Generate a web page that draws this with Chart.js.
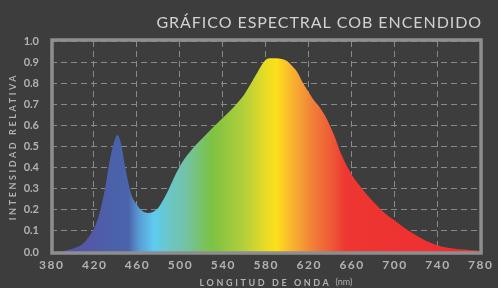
<!DOCTYPE html>
<html>
<head>
<meta charset="utf-8">
<script src="https://cdn.jsdelivr.net/npm/chart.js@4.4.1/dist/chart.umd.min.js"></script>
<style>
  html, body { margin: 0; padding: 0; background: #3d3d3d; }
  #wrap { width: 498px; height: 288px; position: relative; }
</style>
</head>
<body>
<div id="wrap"><canvas id="spectrum"></canvas></div>
<script>
// wavelength (nm) and relative intensity
const wavelengths = [380, 390, 400, 410, 415, 420, 425, 430, 435, 440, 442, 445, 450, 455, 460, 465, 470, 475, 480, 485, 490, 495, 500, 505, 510, 520, 530, 540, 550, 560, 570, 575, 580, 585, 590, 595, 600, 605, 610, 615, 620, 625, 630, 635, 640, 645, 650, 660, 670, 680, 690, 700, 710, 720, 730, 740, 750, 760, 770, 775, 780];
const intensity = [0.0, 0.003, 0.015, 0.04, 0.07, 0.11, 0.18, 0.29, 0.44, 0.54, 0.555, 0.52, 0.38, 0.27, 0.225, 0.195, 0.185, 0.19, 0.21, 0.25, 0.30, 0.355, 0.405, 0.445, 0.478, 0.533, 0.585, 0.635, 0.685, 0.745, 0.83, 0.875, 0.91, 0.918, 0.918, 0.915, 0.905, 0.88, 0.85, 0.80, 0.76, 0.72, 0.69, 0.65, 0.60, 0.54, 0.47, 0.37, 0.30, 0.24, 0.19, 0.15, 0.113, 0.08, 0.052, 0.032, 0.02, 0.013, 0.01, 0.008, 0.004];

// colour of the fill along the spectrum
const stopWavelengths = [380, 410, 440, 452, 463, 476, 490, 505, 530, 560, 580, 590, 605, 625, 640, 655, 780];
const stopColors = ['#5b4fa3', '#5656a6', '#4a62a9', '#4a63aa', '#5a9fd6', '#5ecbf0', '#6bc6c6', '#72c3a8', '#7cc242', '#b3cf3a', '#e8dc25', '#fde01a', '#f8b330', '#f07d38', '#ef5d36', '#ee3632', '#ee2d30'];

const chartTitle = 'GRÁFICO ESPECTRAL COB ENCENDIDO';
const yTitle = 'INTENSIDAD RELATIVA';
const xTitle = 'LONGITUD DE ONDA';
const xUnit = '(nm)';

const gridColor = '#8a8a8a';
const labelColor = '#b2b2b2';

function spectrumFill(context) {
  const chart = context.chart;
  const area = chart.chartArea;
  if (!area) return '#ee2d30';
  const xs = chart.scales.x;
  const x0 = xs.getPixelForValue(380);
  const x1 = xs.getPixelForValue(780);
  const g = chart.ctx.createLinearGradient(x0, 0, x1, 0);
  stopWavelengths.forEach((w, i) => g.addColorStop((w - 380) / 400, stopColors[i]));
  return g;
}

const textPlugin = {
  id: 'texts',
  afterDraw(chart) {
    const ctx = chart.ctx;
    const a = chart.chartArea;
    ctx.save();
    // frame round the plot
    ctx.strokeStyle = '#8e8e90';
    ctx.lineWidth = 3.5;
    ctx.strokeRect(a.left + 1, a.top - 1, a.right - a.left, a.bottom - a.top + 2);

    // title
    ctx.fillStyle = '#d2d2d2';
    ctx.font = '16px Lato';
    ctx.textAlign = 'right';
    ctx.textBaseline = 'middle';
    ctx.letterSpacing = '0.95px';
    ctx.fillText(chartTitle, a.right + 2, 23);

    // y axis title
    ctx.fillStyle = labelColor;
    ctx.font = 'bold 9px Lato';
    ctx.letterSpacing = '2.6px';
    ctx.textAlign = 'center';
    ctx.save();
    ctx.translate(13, (a.top + a.bottom) / 2);
    ctx.rotate(-Math.PI / 2);
    ctx.fillText(yTitle, 0, 0);
    ctx.restore();

    // x axis title
    ctx.font = 'bold 9px Lato';
    ctx.letterSpacing = '2.6px';
    ctx.textAlign = 'left';
    const w1 = ctx.measureText(xTitle).width;
    ctx.font = '9px Lato';
    ctx.letterSpacing = '0px';
    const w2 = ctx.measureText(xUnit).width;
    let x = 276 - (w1 + 4 + w2) / 2;
    ctx.font = 'bold 9px Lato';
    ctx.letterSpacing = '2.6px';
    ctx.fillText(xTitle, x, 283);
    ctx.font = '9px Lato';
    ctx.letterSpacing = '0px';
    ctx.fillText(xUnit, x + w1 + 4, 282);
    ctx.restore();
  }
};

new Chart('spectrum', {
  type: 'line',
  data: {
    datasets: [{
      data: wavelengths.map((w, i) => ({ x: w, y: intensity[i] })),
      fill: 'origin',
      backgroundColor: spectrumFill,
      borderWidth: 0,
      pointRadius: 0,
      tension: 0.4,
      cubicInterpolationMode: 'monotone'
    }]
  },
  options: {
    responsive: true,
    maintainAspectRatio: false,
    animation: false,
    layout: { padding: { top: 41, right: 15, left: 0, bottom: 0 } },
    plugins: { legend: { display: false }, tooltip: { enabled: false }, title: { display: false } },
    scales: {
      x: {
        type: 'linear',
        min: 380,
        max: 780,
        afterFit: s => { s.height = 36; },
        ticks: {
          stepSize: 40,
          color: labelColor,
          font: { family: 'Lato', size: 12, weight: 'bold' },
          padding: 6,
          maxRotation: 0,
          callback: v => String(v).split('').join('\u2009')
        },
        grid: { color: gridColor, lineWidth: 1, drawTicks: false },
        border: { display: false, dash: [6, 4] }
      },
      y: {
        min: 0,
        max: 1,
        afterFit: s => { s.width = 51; },
        ticks: {
          stepSize: 0.1,
          color: labelColor,
          font: { family: 'Lato', size: 11, weight: 'bold' },
          padding: 12,
          callback: v => v.toFixed(1)
        },
        grid: { color: gridColor, lineWidth: 1, drawTicks: false },
        border: { display: false, dash: [6, 4] }
      }
    }
  },
  plugins: [textPlugin]
});
</script>
</body>
</html>
